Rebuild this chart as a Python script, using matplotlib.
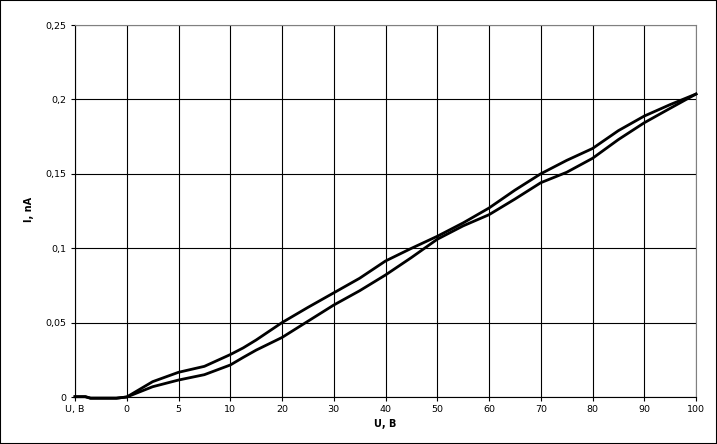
import numpy as np
import matplotlib
matplotlib.use("Agg")
import matplotlib.pyplot as plt
from matplotlib.patches import Rectangle

# ---- data ----
u_neg = [-5, -4, -3.5, -1]
i_neg = [0.0002, 0.0002, -0.0008, -0.0008]

u = [0, 2.5, 5, 7.5, 10, 12.5, 15, 20, 25, 30, 35, 40, 45, 50, 55, 60,
     65, 70, 75, 80, 85, 90, 95, 100]
i_upper = [0, 0.0103, 0.0166, 0.0206, 0.0285, 0.0330, 0.0383, 0.0500,
           0.0602, 0.0700, 0.0798, 0.0914, 0.0999, 0.1080, 0.1170, 0.1270,
           0.1390, 0.1500, 0.1590, 0.1670, 0.1790, 0.1888, 0.1965, 0.2036]
i_lower = [0, 0.0069, 0.0114, 0.0150, 0.0215, 0.0266, 0.0315, 0.0400,
           0.0509, 0.0618, 0.0714, 0.0820, 0.0937, 0.1060, 0.1150, 0.1225,
           0.1330, 0.1440, 0.1510, 0.1604, 0.1730, 0.1843, 0.1940, 0.2036]

x_ticks = [-5, 0, 5, 10, 20, 30, 40, 50, 60, 70, 80, 90, 100]
x_ticklabels = ["U, B", "0", "5", "10", "20", "30", "40", "50", "60",
                "70", "80", "90", "100"]
y_ticks = [0, 0.05, 0.1, 0.15, 0.2, 0.25]
y_ticklabels = ["0", "0,05", "0,1", "0,15", "0,2", "0,25"]
x_label = "U, B"
y_label = "I, nA"

# ---- scale: uneven category spacing (0-10 V in steps of 5, then 10) ----
def fwd(v):
    v = np.asarray(v, dtype=float)
    return np.where(v < 10, v / 5.0, v / 10.0 + 1.0)

def inv(p):
    p = np.asarray(p, dtype=float)
    return np.where(p < 2, p * 5.0, (p - 1.0) * 10.0)

plt.rcParams['font.family'] = ['DejaVu Sans']
fig = plt.figure(figsize=(7.17, 4.44), dpi=100)
ax = fig.add_axes([75/717, 1 - 397/444, (696-75)/717, (397-25)/444])
ax.set_xscale('function', functions=(fwd, inv))

lw = 2.0
ax.plot(u_neg + u, i_neg + i_upper, color='black', lw=lw, clip_on=False,
        solid_joinstyle='round', zorder=3)
ax.plot(u_neg + u, i_neg + i_lower, color='black', lw=lw, clip_on=False,
        solid_joinstyle='round', zorder=3)

ax.set_xlim(-5, 100)
ax.set_ylim(0, 0.25)
ax.set_xticks(x_ticks)
ax.set_xticklabels(x_ticklabels)
ax.set_yticks(y_ticks)
ax.set_yticklabels(y_ticklabels)
ax.minorticks_off()

ax.grid(True, color='black', lw=0.8)
ax.set_axisbelow(True)
ax.tick_params(axis='both', direction='out', length=3, width=0.8,
               labelsize=6.8, color='black', pad=3)

for s in ['left', 'bottom']:
    ax.spines[s].set_color('black')
    ax.spines[s].set_linewidth(0.8)
for s in ['top', 'right']:
    ax.spines[s].set_color('#808080')
    ax.spines[s].set_linewidth(0.8)

ax.set_xlabel(x_label, fontsize=7, fontweight='bold')
ax.set_ylabel(y_label, fontsize=7, fontweight='bold')
ax.xaxis.set_label_coords((385-75)/621, -0.060)
ax.yaxis.set_label_coords((34-75)/621, 0.503)

fig.patches.append(Rectangle((0, 0), 1, 1, transform=fig.transFigure,
                             fill=False, edgecolor='black', lw=1.5))

fig.savefig("out.png", dpi=100)
